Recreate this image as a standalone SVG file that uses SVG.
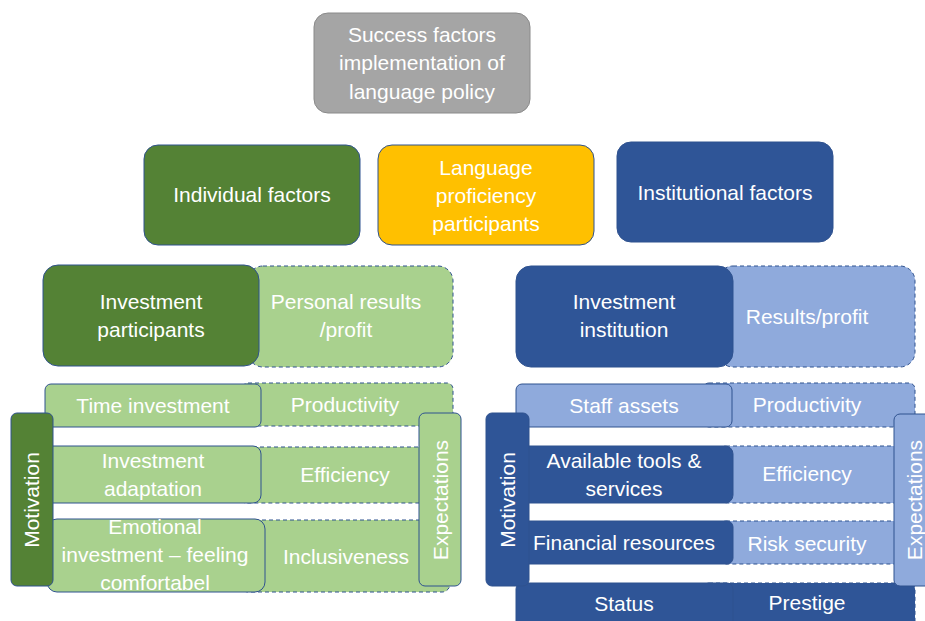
<svg xmlns="http://www.w3.org/2000/svg" width="925" height="621" viewBox="0 0 925 621">
<style>
text{font-family:"Liberation Sans",Arial,sans-serif;font-size:21px;fill:#fff;text-anchor:middle}
.b{stroke:#2f528f;stroke-width:1}
.d{stroke:#2f528f;stroke-width:1;stroke-dasharray:4 3}
.gray{fill:#a5a5a5;stroke:#8a8a8a}
.dg{fill:#548235}
.lg{fill:#a9d18e}
.yl{fill:#ffc000}
.db{fill:#2f5597}
.lb{fill:#8faadc}
</style>
<rect width="925" height="621" fill="#fff"/>
<g id="connectors"></g>
<g id="root"><rect class="gray" x="314" y="13" width="216" height="100" rx="14"/><text x="422" y="42">Success factors</text><text x="422" y="70">implementation of</text><text x="422" y="99">language policy</text></g>
<g id="individual"><rect class="dg b" x="144" y="145" width="216" height="100" rx="14"/><text x="252" y="202">Individual factors</text></g>
<g id="language"><rect class="yl b" x="378" y="145" width="216" height="100" rx="14"/><text x="486" y="175">Language</text><text x="486" y="203">proficiency</text><text x="486" y="231">participants</text></g>
<g id="institutional"><rect class="db b" x="617" y="142" width="216" height="100" rx="14"/><text x="725" y="200">Institutional factors</text></g>

<g id="personal-results"><rect class="lg d" x="248" y="266" width="205" height="101" rx="15"/><text x="346" y="309">Personal results</text><text x="346" y="337">/profit</text></g>
<g id="investment-participants"><rect class="dg b" x="43" y="265" width="216" height="101" rx="15"/><text x="151" y="309">Investment</text><text x="151" y="337">participants</text></g>

<g id="productivity-l"><rect class="lg d" x="242" y="383" width="211" height="43" rx="6"/><text x="345" y="412">Productivity</text></g>
<g id="time-investment"><rect class="lg b" x="45" y="384" width="216" height="43" rx="6"/><text x="153" y="413">Time investment</text></g>
<g id="efficiency-l"><rect class="lg d" x="240" y="447" width="190" height="56" rx="6"/><text x="345" y="482">Efficiency</text></g>
<g id="investment-adaptation"><rect class="lg b" x="45" y="446" width="216" height="57" rx="8"/><text x="153" y="468">Investment</text><text x="153" y="496">adaptation</text></g>
<g id="inclusiveness"><rect class="lg d" x="240" y="520" width="210" height="72" rx="8"/><text x="346" y="564">Inclusiveness</text></g>
<g id="emotional-investment"><rect class="lg b" x="47" y="519" width="218" height="73" rx="10"/><text x="155" y="534">Emotional</text><text x="155" y="562">investment – feeling</text><text x="155" y="590">comfortabel</text></g>
<g id="motivation-l"><rect class="dg b" x="11" y="413" width="42" height="173" rx="6"/><text transform="translate(39,500) rotate(-90)">Motivation</text></g>
<g id="expectations-l"><rect class="lg b" x="419" y="413" width="42" height="173" rx="6"/><text transform="translate(448,500) rotate(-90)">Expectations</text></g>

<g id="results-profit"><rect class="lb d" x="718" y="266" width="197" height="101" rx="15"/><text x="807" y="324">Results/profit</text></g>
<g id="investment-institution"><rect class="db b" x="516" y="266" width="217" height="101" rx="15"/><text x="624" y="309">Investment</text><text x="624" y="337">institution</text></g>

<g id="productivity-r"><rect class="lb d" x="703" y="383" width="212" height="44" rx="6"/><text x="807" y="412">Productivity</text></g>
<g id="staff-assets"><rect class="lb b" x="516" y="384" width="216" height="43" rx="6"/><text x="624" y="413">Staff assets</text></g>
<g id="efficiency-r"><rect class="lb d" x="720" y="446" width="185" height="57" rx="6"/><text x="807" y="481">Efficiency</text></g>
<g id="available-tools"><rect class="db b" x="516" y="446" width="217" height="57" rx="8"/><text x="624" y="468">Available tools &amp;</text><text x="624" y="496">services</text></g>
<g id="risk-security"><rect class="lb d" x="720" y="521" width="185" height="43" rx="6"/><text x="807" y="551">Risk security</text></g>
<g id="financial-resources"><rect class="db b" x="516" y="521" width="217" height="43" rx="6"/><text x="624" y="550">Financial resources</text></g>
<g id="prestige"><rect class="db d" x="703" y="583" width="212" height="50" rx="6"/><text x="807" y="610">Prestige</text></g>
<g id="status"><rect class="db b" x="516" y="583" width="217" height="50" rx="6"/><text x="624" y="611">Status</text></g>
<g id="motivation-r"><rect class="db b" x="486" y="413" width="43" height="173" rx="6"/><text transform="translate(515,500) rotate(-90)">Motivation</text></g>
<g id="expectations-r"><rect class="lb b" x="894" y="414" width="44" height="172" rx="6"/><text transform="translate(922,500) rotate(-90)">Expectations</text></g>
</svg>
